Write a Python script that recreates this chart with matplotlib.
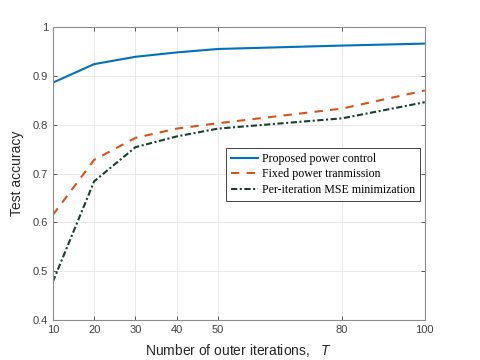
import matplotlib
matplotlib.use("Agg")
import matplotlib.pyplot as plt

iterations = [10, 20, 30, 40, 50, 80, 100]
proposed = [0.886, 0.924, 0.939, 0.948, 0.955, 0.962, 0.966]
fixed_power = [0.615, 0.728, 0.773, 0.792, 0.803, 0.833, 0.870]
mse_min = [0.478, 0.684, 0.754, 0.776, 0.792, 0.813, 0.846]

plt.rcParams["font.family"] = "Liberation Sans"
plt.rcParams["mathtext.fontset"] = "custom"
plt.rcParams["mathtext.it"] = "Liberation Sans:italic"

fig = plt.figure(figsize=(4.8, 3.6), dpi=100)
ax = fig.add_axes([0.110, 0.111, 0.775, 0.814])

ax.plot(iterations, proposed, color="#0072BD", lw=1.5, label="Proposed power control")
ax.plot(iterations, fixed_power, color="#D95319", lw=1.5, ls=(0, (4, 3.5)),
        label="Fixed power tranmission")
ax.plot(iterations, mse_min, color="#1b3f2e", lw=1.5, ls=(0, (3, 1.2, 1, 1.2)),
        label="Per-iteration MSE minimization")

ax.set_xlim(10, 100)
ax.set_ylim(0.4, 1.0)
ax.set_xticks(iterations)
ax.set_xticklabels([str(v) for v in iterations])
ax.set_yticks([0.4, 0.5, 0.6, 0.7, 0.8, 0.9, 1.0])
ax.set_yticklabels(["0.4", "0.5", "0.6", "0.7", "0.8", "0.9", "1"])
ax.grid(True, color="#e6e6e6", lw=0.6)
ax.set_axisbelow(True)
ax.tick_params(direction="in", length=3, width=0.6, labelsize=8,
               colors="#404040", top=True, right=True, labeltop=False, labelright=False)
for s in ax.spines.values():
    s.set_color("#8c8c8c")
    s.set_linewidth(0.8)

ax.set_xlabel(r"Number of outer iterations,   $T$", fontsize=10, color="#262626", labelpad=5)
ax.set_ylabel("Test accuracy", fontsize=10, color="#262626", labelpad=6)

leg = ax.legend(loc="upper left", bbox_to_anchor=(0.465, 0.587),
                prop={"family": "Liberation Serif", "size": 8.6},
                frameon=True, fancybox=False, edgecolor="#262626", framealpha=1,
                handlelength=2.3, handletextpad=0.3, labelspacing=0.3,
                borderpad=0.4, borderaxespad=0)
leg.get_frame().set_linewidth(0.6)

fig.savefig("out.png", dpi=100)
